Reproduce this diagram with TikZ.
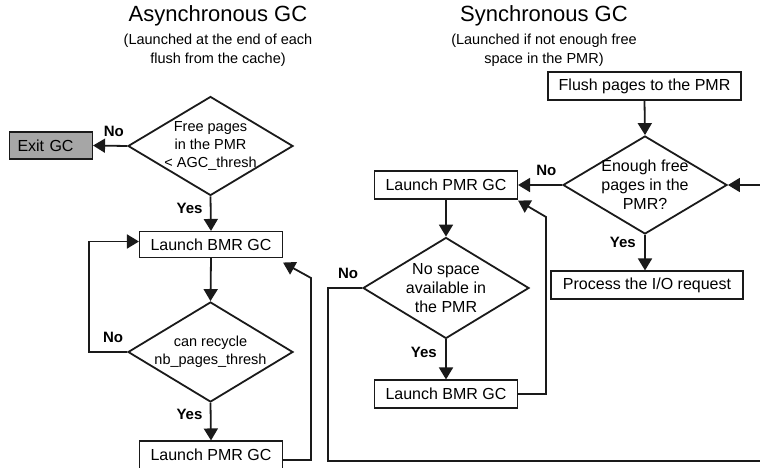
\documentclass[tikz,border=0pt]{standalone}
\usepackage{fontspec}
\setmainfont{Liberation Sans}
\usetikzlibrary{shapes.geometric,arrows.meta}
\definecolor{exitgray}{HTML}{A6A6A6}
\definecolor{linegray}{HTML}{1A1A1A}

\tikzset{
  stepbox/.style={draw=linegray, line width=1.1pt, minimum width=143pt, minimum height=28pt,
    inner sep=0pt, font=\fontsize{16}{19}\selectfont},
  test/.style={draw=linegray, diamond, line width=1.8pt, aspect=1.7, inner sep=-6pt, align=center,
    minimum width=165pt, minimum height=99pt, font=\fontsize{14.5}{18}\selectfont},
  bigtest/.style={test, font=\fontsize{16}{19}\selectfont},
  arr/.style={draw=linegray, line width=1.8pt, -{Triangle[length=12pt,width=14pt]}},
  ans/.style={font=\bfseries\fontsize{15}{18}\selectfont},
  subtitle/.style={align=center, font=\fontsize{14.5}{19}\selectfont},
}

\begin{document}
\begin{tikzpicture}[x=1pt, y=-1pt]
    \useasboundingbox (0,0) rectangle (760,468);
    \clip (0,0) rectangle (760,468);

    % titles
    \node[font=\fontsize{22}{26}\selectfont] (titleA) at (218,16) {Asynchronous GC};
    \node[subtitle] (subA) at (218,50) {(Launched at the end of each\\flush from the cache)};
    \node[font=\fontsize{22}{26}\selectfont] (titleS) at (544,16) {Synchronous GC};
    \node[subtitle] (subS) at (544,50) {(Launched if not enough free\\space in the PMR)};

    % asynchronous side
    \node[stepbox, fill=exitgray, minimum width=83pt, minimum height=27pt, text width=67pt,
      align=left, inner xsep=8pt] (exit) at (51,145.5) {Exit GC};
    \node[test] (freeA) at (210.5,146) {Free pages\\in the PMR\\< AGC\_thresh};
    \node[stepbox, minimum height=26pt] (bmrA) at (211,244.5) {Launch BMR GC};
    \node[test, minimum height=100pt] (recycle) at (210.5,352) {can recycle\\nb\_pages\_thresh};
    \node[stepbox] (pmrA) at (211,455) {Launch PMR GC};

    % synchronous side
    \node[stepbox, minimum width=193pt] (flush) at (644.5,86) {Flush pages to the PMR};
    \node[bigtest, minimum width=164pt, minimum height=98pt] (enough) at (645,185) {Enough free\\pages in the\\PMR?};
    \node[stepbox] (pmrS) at (446,185) {Launch PMR GC};
    \node[bigtest, minimum width=166pt, minimum height=101pt] (nospace) at (446,288) {No space\\available in\\the PMR};
    \node[stepbox] (bmrS) at (446,394) {Launch BMR GC};
    \node[stepbox, minimum width=192pt] (io) at (647,285) {Process the I/O request};

    % connectors
    \draw[arr] (freeA.west) -- (exit.east) node[ans, pos=0.39, above=5pt] {No};
    \draw[arr] (freeA.south) -- (bmrA.north) node[ans, pos=0.35, left=4pt] {Yes};
    \draw[arr] (bmrA.south) -- (recycle.north);
    \draw[arr] (recycle.west) -- ++(-38,0) node[ans, pos=0.37, above=5pt] {No} |- ([yshift=3pt]bmrA.west);
    \draw[arr] (recycle.south) -- (pmrA.north) node[ans, pos=0.3, left=4pt] {Yes};
    \draw[arr] ([yshift=-5pt]pmrA.east) -- ++(28,0) -- ++(0,-182) -- ([yshift=-4.5pt]bmrA.south east);

    \draw[arr] (flush.south) -- (enough.north);
    \draw[arr] (enough.west) -- (pmrS.east) node[ans, pos=0.36, above=5pt] {No};
    \draw[arr] (enough.south) -- (enough.south |- io.north) node[ans, pos=0.22, left=5pt] {Yes};
    \draw[arr] (pmrS.south) -- (nospace.north);
    \draw[arr] (nospace.south) -- (bmrS.north) node[ans, pos=0.32, left=5pt] {Yes};
    \draw[arr] (bmrS.east) -- ++(28,0) -- ++(0,-177) -- ([yshift=-1pt]pmrS.south east);
    \draw[arr] (nospace.west) -- ++(-34,0) node[ans, pos=0.41, above=5pt] {No}
      -- ++(0,173) -- ++(452,0) |- (enough.east);
\end{tikzpicture}
\end{document}
